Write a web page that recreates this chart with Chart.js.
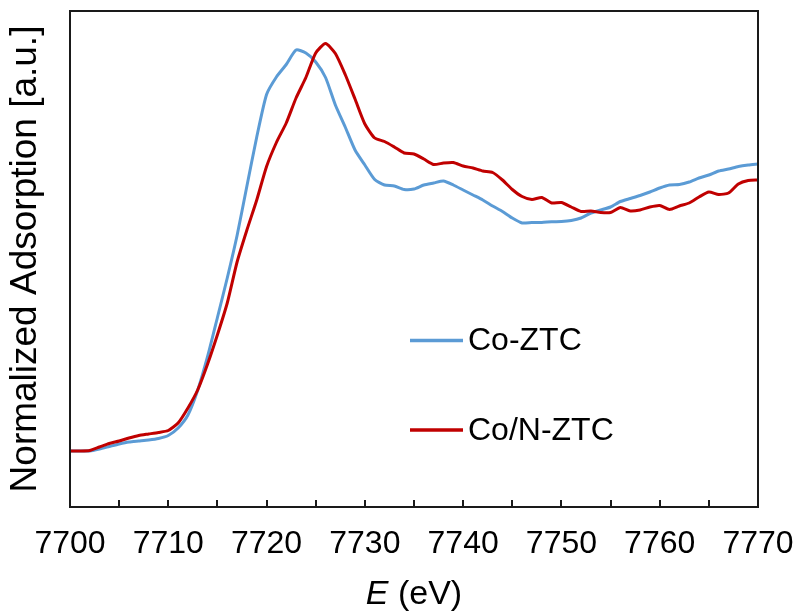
<!DOCTYPE html>
<html>
<head>
<meta charset="utf-8">
<script src="https://cdn.jsdelivr.net/npm/chart.js@4"></script>
<style>
  body { margin: 0; background: #fff; }
  #box { width: 796px; height: 612px; }
</style>
</head>
<body>
<div id="box"><canvas id="graficoXanes" width="796" height="612"></canvas></div>
<script>
// Energy grid (eV)
var energia = [7700, 7701, 7702, 7703, 7704, 7705, 7706, 7707, 7708, 7709,
  7710, 7711, 7712, 7713, 7714, 7715, 7716, 7717, 7718, 7719,
  7720, 7721, 7722, 7723, 7724, 7725, 7726, 7727, 7728, 7729,
  7730, 7731, 7732, 7733, 7734, 7735, 7736, 7737, 7738, 7739,
  7740, 7741, 7742, 7743, 7744, 7745, 7746, 7747, 7748, 7749,
  7750, 7751, 7752, 7753, 7754, 7755, 7756, 7757, 7758, 7759,
  7760, 7761, 7762, 7763, 7764, 7765, 7766, 7767, 7768, 7769, 7770];

// Co-ZTC
var coZtc = [0, 0, 0, 0.008, 0.018, 0.028, 0.036, 0.040, 0.044, 0.050,
  0.062, 0.092, 0.144, 0.244, 0.378, 0.534, 0.692, 0.862, 1.060, 1.256,
  1.426, 1.496, 1.546, 1.604, 1.592, 1.556, 1.494, 1.384, 1.296, 1.204,
  1.144, 1.086, 1.064, 1.060, 1.046, 1.048, 1.064, 1.072, 1.080, 1.064,
  1.044, 1.024, 1.004, 0.980, 0.958, 0.932, 0.912, 0.914, 0.914, 0.917,
  0.918, 0.922, 0.932, 0.952, 0.964, 0.976, 0.998, 1.010, 1.022, 1.036,
  1.052, 1.064, 1.066, 1.076, 1.092, 1.104, 1.120, 1.128, 1.138, 1.144, 1.148];

// Co/N-ZTC
var coNZtc = [0, 0, 0.002, 0.016, 0.030, 0.040, 0.052, 0.062, 0.068, 0.074,
  0.082, 0.112, 0.172, 0.245, 0.348, 0.465, 0.592, 0.756, 0.884, 1.004,
  1.138, 1.234, 1.312, 1.412, 1.494, 1.592, 1.630, 1.590, 1.506, 1.408,
  1.308, 1.252, 1.238, 1.216, 1.192, 1.188, 1.168, 1.146, 1.152, 1.154,
  1.140, 1.132, 1.120, 1.114, 1.084, 1.046, 1.018, 1.006, 1.014, 0.992,
  0.994, 0.976, 0.958, 0.960, 0.954, 0.954, 0.974, 0.960, 0.964, 0.976,
  0.982, 0.966, 0.980, 0.992, 1.016, 1.036, 1.026, 1.032, 1.068, 1.082, 1.084];

var nomesSeries = ['Co-ZTC', 'Co/N-ZTC'];
var coresSeries = ['#5B9BD5', '#C00000'];

function pares(ys) {
  return energia.map(function (e, i) { return { x: e, y: ys[i] }; });
}

Chart.defaults.font.family = '"Liberation Sans", Arial, sans-serif';
Chart.defaults.color = '#000';

// Frame, inward ticks, legend and x title
var extras = {
  id: 'extras',
  afterDraw: function (chart) {
    var c = chart.ctx;
    var a = chart.chartArea;
    var sx = chart.scales.x;
    c.save();
    c.strokeStyle = '#1a1a1a';
    c.lineWidth = 2;
    c.strokeRect(a.left, a.top, a.right - a.left, a.bottom - a.top);
    sx.ticks.forEach(function (t) {
      var px = Math.round(sx.getPixelForValue(t.value));
      c.beginPath();
      c.moveTo(px, a.bottom);
      c.lineTo(px, a.bottom - 7);
      c.stroke();
    });

    // legend inside plot
    var itens = [{ y: 340.5 }, { y: 430 }];
    c.font = '32px "Liberation Sans", Arial, sans-serif';
    c.textBaseline = 'middle';
    c.fillStyle = '#000';
    itens.forEach(function (it, i) {
      c.strokeStyle = coresSeries[i];
      c.lineWidth = 3.5;
      c.beginPath();
      c.moveTo(410, it.y);
      c.lineTo(463, it.y);
      c.stroke();
      c.fillText(nomesSeries[i], 468, it.y + 1);
    });

    // x title: italic E + (eV)
    var fonteE = 'italic 34px "Liberation Sans", Arial, sans-serif';
    var fonteR = '34px "Liberation Sans", Arial, sans-serif';
    c.textBaseline = 'alphabetic';
    c.font = fonteE;
    var wE = c.measureText('E').width;
    c.font = fonteR;
    var wR = c.measureText(' (eV)').width;
    var x0 = (a.left + a.right) / 2 - (wE + wR) / 2;
    c.font = fonteE;
    c.fillText('E', x0, 604);
    c.font = fonteR;
    c.fillText(' (eV)', x0 + wE, 604);
    c.restore();
  }
};

var ctx = document.getElementById('graficoXanes').getContext('2d');

var graficoXanes = new Chart(ctx, {
  type: 'line',
  data: {
    datasets: [{
      label: nomesSeries[0],
      data: pares(coZtc),
      borderColor: coresSeries[0],
      borderWidth: 3,
      pointRadius: 0,
      tension: 0.2,
      order: 2
    }, {
      label: nomesSeries[1],
      data: pares(coNZtc),
      borderColor: coresSeries[1],
      borderWidth: 3,
      pointRadius: 0,
      tension: 0.2,
      order: 1
    }]
  },
  options: {
    responsive: false,
    animation: false,
    layout: { padding: { left: 0, right: 38, top: 11, bottom: 0 } },
    plugins: {
      legend: { display: false },
      tooltip: { enabled: false }
    },
    scales: {
      x: {
        type: 'linear',
        min: 7700,
        max: 7770,
        grid: { display: false, drawTicks: false },
        border: { display: false },
        ticks: {
          stepSize: 5,
          padding: 18,
          maxRotation: 0,
          autoSkip: false,
          font: { size: 32 },
          callback: function (v) { return v % 10 === 0 ? String(v) : ''; }
        },
        afterFit: function (s) {
          s.height = 105;
          s.paddingLeft = 0;
          s.paddingRight = 0;
        }
      },
      y: {
        min: -0.224,
        max: 1.76,
        grid: { display: false, drawTicks: false },
        border: { display: false },
        ticks: { display: false },
        title: {
          display: true,
          text: 'Normalized Adsorption [a.u.]',
          font: { size: 37 },
          padding: { top: 4, bottom: 0 }
        },
        afterFit: function (s) { s.width = 70; }
      }
    }
  },
  plugins: [extras]
});
</script>
</body>
</html>
